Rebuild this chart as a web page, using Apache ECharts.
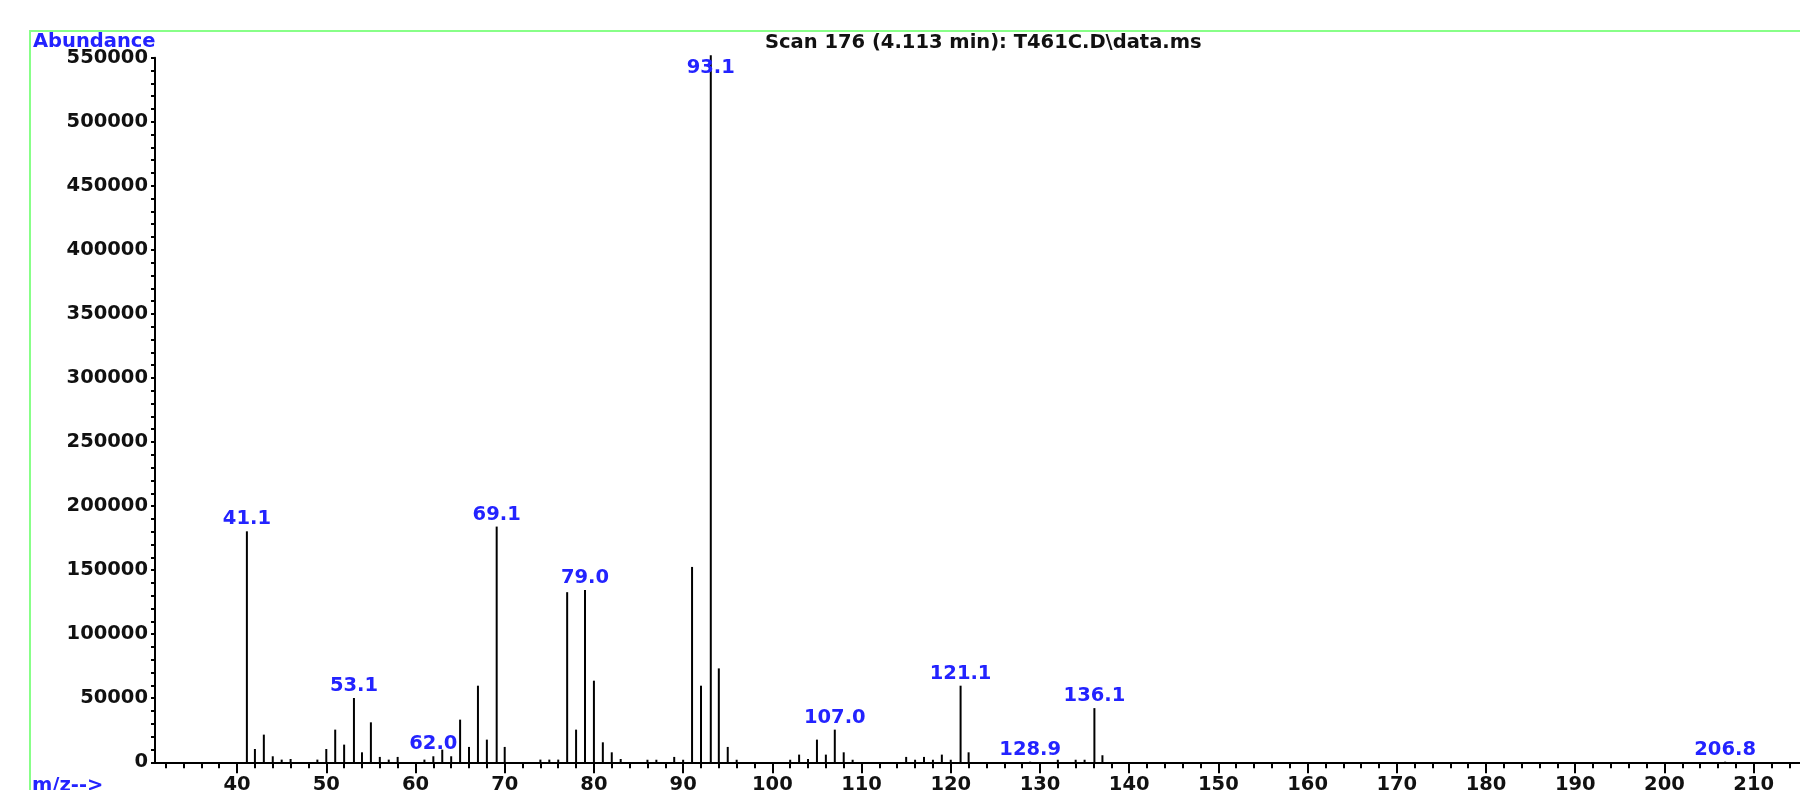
<!DOCTYPE html>
<html><head><meta charset="utf-8">
<script src="https://cdn.jsdelivr.net/npm/echarts@6/dist/echarts.min.js"></script>
<style>html,body{margin:0;padding:0;background:#fff;overflow:hidden;} #c{width:1800px;height:790px;}</style>
</head><body><div id="c"></div>
<script>
// ---- data ----
const mzValues = [41.1, 42, 43, 44, 45, 46, 49, 50, 51, 52, 53.1, 54, 55, 56, 57, 58, 61, 62.0, 63, 64, 65, 66, 67, 68, 69.1, 70,
  74, 75, 76, 77, 78, 79.0, 80, 81, 82, 83, 86, 87, 89, 90, 91, 92, 93.1, 94, 95, 96,
  102, 103, 104, 105, 106, 107.0, 108, 109, 115, 116, 117, 118, 119, 120, 121.1, 122,
  128.9, 132, 134, 135, 136.1, 137, 206.8];
const abundances = [180300, 10400, 21600, 4700, 2100, 2600, 2100, 10400, 25500, 13800, 50200, 7800, 31200, 4200, 2100, 4200, 2100, 4700, 9900, 4700, 33300, 12000, 59800, 17700, 184000, 12000,
  2100, 2100, 2100, 132800, 25500, 134500, 63700, 15600, 7800, 2600, 2000, 2000, 4200, 2000, 152500, 59800, 552000, 73300, 12000, 2000,
  2000, 6000, 2600, 17700, 6000, 25500, 7800, 2000, 4200, 2000, 4200, 2000, 6000, 2000, 59800, 7800,
  500, 2000, 2000, 2000, 42300, 5500, 500];
const labeledPeaks = [41.1, 53.1, 62.0, 69.1, 79.0, 93.1, 107.0, 121.1, 128.9, 136.1, 206.8];
const xMajorTicks = [40, 50, 60, 70, 80, 90, 100, 110, 120, 130, 140, 150, 160, 170, 180, 190, 200, 210];
const xMinorTicks = [32, 34, 36, 38, 40, 42, 44, 46, 48, 50, 52, 54, 56, 58, 60, 62, 64, 66, 68, 70, 72, 74, 76, 78, 80,
  82, 84, 86, 88, 90, 92, 94, 96, 98, 100, 102, 104, 106, 108, 110, 112, 114, 116, 118, 120, 122, 124, 126, 128, 130,
  132, 134, 136, 138, 140, 142, 144, 146, 148, 150, 152, 154, 156, 158, 160, 162, 164, 166, 168, 170, 172, 174, 176, 178, 180,
  182, 184, 186, 188, 190, 192, 194, 196, 198, 200, 202, 204, 206, 208, 210, 212, 214, 216];
const titleText = 'Scan 176 (4.113 min): T461C.D\\data.ms';
const yAxisTitle = 'Abundance';
const xAxisTitle = 'm/z-->';

// ---- styling ----
const FONT = 'DejaVu Sans';
const FS = 19.5;
const BLUE = '#2323ff';
const INK = '#111';

const seriesData = mzValues.map((m, i) => {
  const item = { value: [m, abundances[i]] };
  if (labeledPeaks.indexOf(m) >= 0) {
    item.label = (m === 93.1) ? { show: true, position: 'insideTop', distance: 3 } : { show: true };
  }
  return item;
});

const chart = echarts.init(document.getElementById('c'), null, { renderer: 'canvas' });
const xMin = 30.8, xMax = 216;
chart.setOption({
  animation: false,
  backgroundColor: '#fff',
  grid: { left: 155, top: 57.7, width: 1652.2, height: 704.6, containLabel: false, outerBoundsMode: 'none' },
  xAxis: [
    {
      type: 'value', min: xMin, max: xMax, position: 'bottom',
      axisLine: { show: true, lineStyle: { color: '#000', width: 2 } },
      axisTick: { show: true, customValues: xMajorTicks, length: 11, lineStyle: { color: '#000', width: 2 } },
      axisLabel: { show: true, customValues: xMajorTicks, margin: 13, color: INK, fontFamily: FONT, fontWeight: 'bold', fontSize: FS,
        formatter: v => String(v) },
      splitLine: { show: false }
    },
    {
      type: 'value', min: xMin, max: xMax, position: 'bottom',
      axisLine: { show: false },
      axisTick: { show: true, customValues: xMinorTicks, length: 6, lineStyle: { color: '#000', width: 2 } },
      axisLabel: { show: false },
      splitLine: { show: false }
    }
  ],
  yAxis: {
    type: 'value', min: 0, max: 550000, interval: 50000,
    axisLine: { show: true, lineStyle: { color: '#000', width: 2 } },
    axisTick: { show: true, length: 4, lineStyle: { color: '#000', width: 2 } },
    minorTick: { show: true, splitNumber: 5, length: 4, lineStyle: { color: '#000', width: 2 } },
    axisLabel: { margin: 7, color: INK, fontFamily: FONT, fontWeight: 'bold', fontSize: FS, formatter: v => String(v) },
    splitLine: { show: false }, minorSplitLine: { show: false }
  },
  series: [{
    type: 'bar', xAxisIndex: 0, yAxisIndex: 0,
    barWidth: 2, clip: false,
    itemStyle: { color: '#000' },
    label: {
      show: false, position: 'top', distance: 2,
      color: BLUE, fontFamily: FONT, fontWeight: 'bold', fontSize: FS,
      formatter: p => p.value[0].toFixed(1)
    },
    data: seriesData
  }],
  graphic: [
    { type: 'rect', z: 0, silent: true, shape: { x: 30, y: 31, width: 1800, height: 800 },
      style: { fill: 'transparent', stroke: '#88ff88', lineWidth: 2 } },
    { type: 'text', z: 10, x: 33, y: 42.3, style: { text: yAxisTitle, fill: BLUE, font: 'bold ' + FS + 'px "' + FONT + '"', verticalAlign: 'middle', align: 'left' } },
    { type: 'text', z: 10, x: 32, y: 786, style: { text: xAxisTitle, fill: BLUE, font: 'bold ' + FS + 'px "' + FONT + '"', verticalAlign: 'middle', align: 'left' } },
    { type: 'text', z: 10, x: 765, y: 42.7, style: { text: titleText, fill: INK, font: 'bold ' + FS + 'px "' + FONT + '"', verticalAlign: 'middle', align: 'left' } }
  ]
});
</script>
</body></html>
